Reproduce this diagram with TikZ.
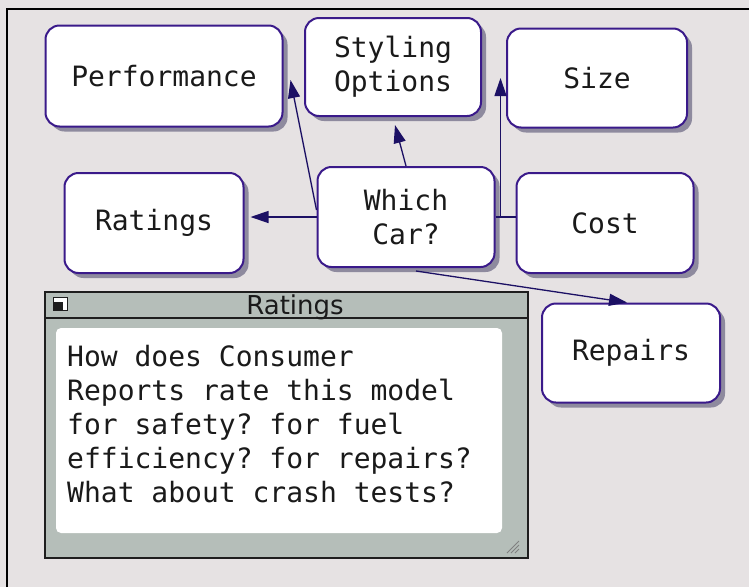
\documentclass[tikz,border=0pt]{standalone}
\usepackage{fontspec}
\setmonofont{DejaVu Sans Mono}
\newfontfamily\titlefont{DejaVu Sans}
\usetikzlibrary{arrows.meta,positioning,calc,shadows}
\definecolor{ink}{HTML}{1A1A1A}
\definecolor{canvas}{HTML}{E6E2E3}
\definecolor{boxedge}{HTML}{3A1A8A}
\definecolor{shade}{HTML}{8E8A9E}
\definecolor{linkcol}{HTML}{1C1064}
\definecolor{winfill}{HTML}{B5BEB9}
\definecolor{winedge}{HTML}{1E1E1E}

\begin{document}
\begin{tikzpicture}[x=1pt,y=-1pt,
    carbox/.style={rectangle, rounded corners=14pt, draw=boxedge, line width=2pt,
      fill=white, align=center, inner sep=0pt, text=ink,
      font=\fontsize{28}{34}\selectfont\ttfamily,
      drop shadow={shadow xshift=5pt, shadow yshift=-5pt, fill=shade, opacity=1}},
    wire/.style={draw=linkcol, line width=1.3pt},
    pointer/.style={wire, -{Triangle[length=18pt,width=12pt]}}]
  \useasboundingbox (0,0) rectangle (749,587);
  \fill[canvas] (0,0) rectangle (749,587);
  \draw[black, line width=2pt] (7,587) -- (7,9) -- (749,9);

  \node[carbox, minimum width=237pt, minimum height=101pt] (perf) at (164,76) {Performance};
  \node[carbox, minimum width=176pt, minimum height=98pt] (styling) at (393,67) {Styling\\Options};
  \node[carbox, minimum width=180pt, minimum height=99pt] (size) at (597,78) {Size};
  \node[carbox, minimum width=179pt, minimum height=100pt] (ratings) at (154,223) {Ratings};
  \node[carbox, minimum width=177pt, minimum height=100pt] (which) at (406,217) {Which\\Car?};
  \node[carbox, minimum width=177pt, minimum height=100pt] (cost) at (605,223) {Cost};
  \node[carbox, minimum width=178pt, minimum height=99pt] (repairs) at (631,353) {Repairs};

  \draw[pointer] (which.west) -- ([xshift=6pt]which.west -| ratings.east);
  \draw[pointer] ([yshift=7pt]which.west) -- ([xshift=7pt,yshift=-4pt]perf.east);
  \draw[pointer] (which.north) -- ([xshift=2pt,yshift=-8pt]styling.south);
  \draw[wire] (which.east) -- (which.east -| cost.west);
  \draw[pointer] ([xshift=5pt]which.east) -- ([xshift=5pt]which.east |- size.west);
  \draw[pointer] ([xshift=10pt,yshift=-3pt]which.south) -- ([xshift=-4pt]repairs.north);

  \draw[winedge, line width=1.5pt, fill=winfill] (45,292) rectangle (528,558);
  \draw[winedge, line width=2pt] (45,318) -- (528,318);
  \fill[white, rounded corners=5pt] (56,328) rectangle (502,533);
  \draw[winedge, line width=1pt, fill=white] (53,297) rectangle (67,310);
  \fill[winedge] (53,302) rectangle (63,310);
  \foreach \d in {0,4,8}
    \draw[gray, line width=0.8pt] (507+\d,553) -- (519,541+\d);
  \node[anchor=base, inner sep=0pt, text=ink, font=\titlefont\fontsize{26}{30}\selectfont] (wintitle) at (295,314) {Ratings};
  \node[anchor=north west, inner sep=0pt, align=left, text=ink,
    font=\fontsize{28}{34}\selectfont\ttfamily] (note) at (67,345)
    {How does Consumer\\Reports rate this model\\for safety? for fuel\\efficiency? for repairs?\\What about crash tests?};
\end{tikzpicture}
\end{document}
